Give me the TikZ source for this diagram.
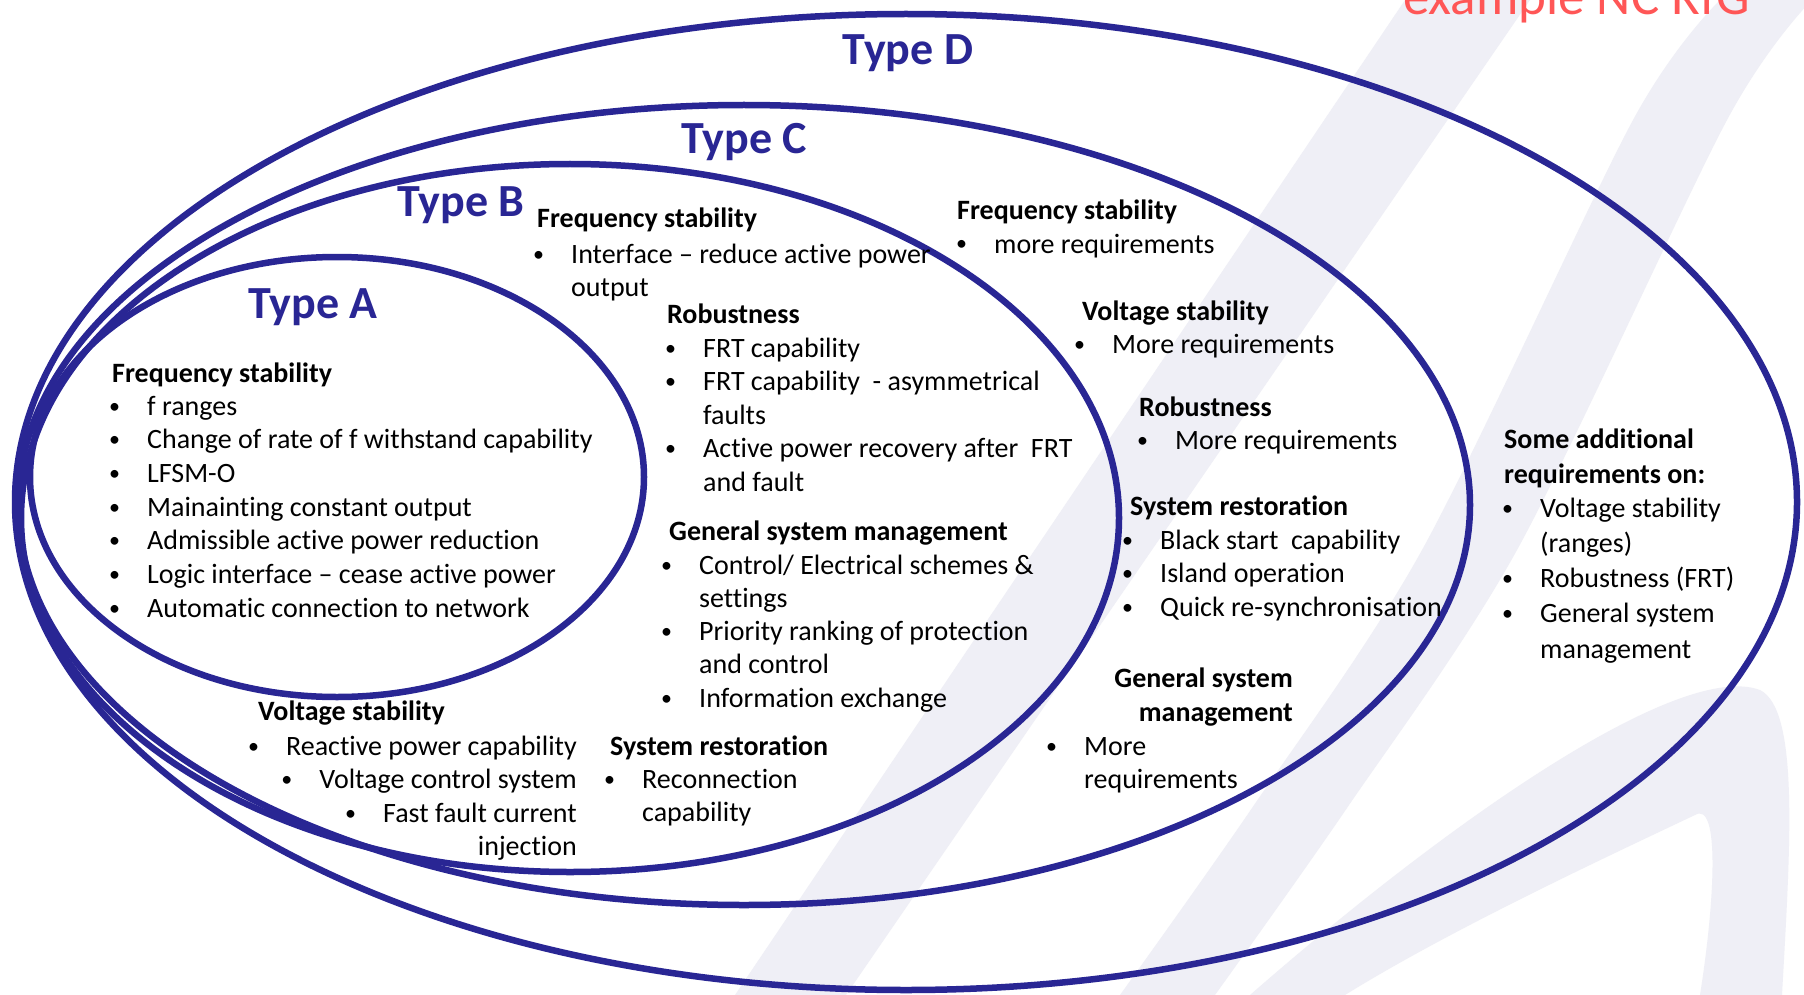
\documentclass[tikz,border=0pt]{standalone}
\usepackage{fontspec}
\setmainfont{Carlito}[Ligatures={TeX,NoCommon}]
\usetikzlibrary{shapes.geometric}

\definecolor{ringblue}{RGB}{41,38,148}
\definecolor{ncred}{RGB}{255,86,86}
\definecolor{logo}{RGB}{239,239,246}

% bullet hanging left of the item text
\newcommand{\bl}{\llap{\makebox[38pt][l]{\raisebox{2pt}{\fontsize{22}{22}\selectfont\textbullet}}}}
% #1 name, #2 x of text, #3 first baseline, #4 line gap, #5 lines
\newcommand{\reqlines}[5]{%
  \foreach \txt [count=\k from 0] in {#5}
    \node[req] (#1-\k) at (#2,{#3+#4*\k}) {\txt};}

\tikzset{
  ring/.style      = {ellipse, draw=ringblue, line width=6.5pt, inner sep=0pt},
  typelabel/.style = {anchor=base, inner sep=0pt, text=ringblue,
                      font=\fontsize{46}{52}\selectfont\bfseries},
  req/.style       = {anchor=base west, inner sep=0pt, font=\fontsize{28}{34}\selectfont},
  reqhead/.style   = {req, font=\fontsize{28}{34}\selectfont\bfseries},
  reqright/.style  = {req, anchor=base east},
  band/.style      = {fill=logo, draw=none},
}

\begin{document}
\begin{tikzpicture}[x=1pt, y=-1pt]
  \useasboundingbox (0,0) rectangle (1804,995);
  \fill[white] (0,0) rectangle (1804,995);

  % faint logo strokes behind everything
  \fill[band] (735,995) -- (1405,0) -- (1530,0) -- (846,995) -- cycle;
  \fill[band] plot[smooth] coordinates {(1120,995) (1252,808) (1422,550) (1633,120) (1720,0)}
    -- plot[smooth] coordinates {(1812,0) (1727,120) (1517,550) (1347,808) (1215,995)} -- cycle;
  \fill[band] (1250,995) .. controls (1450,820) and (1680,660) .. (1760,690)
    .. controls (1800,710) and (1790,850) .. (1782,995) -- (1700,995)
    .. controls (1715,900) and (1720,800) .. (1695,815)
    .. controls (1600,860) and (1450,930) .. (1345,995) -- cycle;

  % nested generator types
  \node[ring, minimum width=1782pt, minimum height=976pt] (typeD) at (906,502) {};
  \node[ring, minimum width=1452pt, minimum height=800pt] (typeC) at (744,505) {};
  \node[ring, minimum width=1098pt, minimum height=708pt] (typeB) at (570,518) {};
  \node[ring, minimum width=614pt,  minimum height=440pt] (typeA) at (337,477) {};

  \node[typelabel] (labD) at (908,65)  {Type D};
  \node[typelabel] (labC) at (744,154) {Type C};
  \node[typelabel] (labB) at (461,217) {Type B};
  \node[typelabel] (labA) at (313,318) {Type A};

  \node[anchor=base west, inner sep=0pt, text=ncred, font=\fontsize{53}{60}\selectfont]
    (ncrfg) at (1403,15) {example NC RfG};

  % type A
  \node[reqhead] (aFreqH) at (112,382) {Frequency stability};
  \reqlines{aFreq}{147}{415}{33.7}{\bl f ranges, \bl Change of rate of f withstand capability,
    \bl LFSM-O, \bl Mainainting constant output, \bl Admissible active power reduction,
    \bl Logic interface – cease active power, \bl Automatic connection to network}

  \node[reqhead] (aVoltH) at (258,720) {Voltage stability};
  \node[reqright] (aVolt-0) at (577,755) {\bl Reactive power capability};
  \node[reqright] (aVolt-1) at (577,788) {\bl Voltage control system};
  \node[reqright] (aVolt-2) at (577,822) {\bl Fast fault current};
  \node[reqright] (aVolt-3) at (577,855) {injection};

  % type B
  \node[reqhead] (bFreqH) at (537,228) {Frequency stability};
  \reqlines{bFreq}{571}{263}{33.7}{\bl Interface – reduce active power, output}
  \node[reqhead] (bRobH) at (667,323) {Robustness};
  \reqlines{bRob}{703}{357}{33.5}{\bl FRT capability, \bl FRT capability~ - asymmetrical,
    faults, \bl Active power recovery after~ FRT, and fault}
  \node[reqhead] (bGsmH) at (669,540) {General system management};
  \reqlines{bGsm}{699}{574}{33.3}{\bl Control/ Electrical schemes \&, settings,
    \bl Priority ranking of protection, and control, \bl Information exchange}
  \node[reqhead] (bResH) at (610,755) {System restoration};
  \reqlines{bRes}{642}{788}{33.7}{\bl Reconnection, capability}

  % type C
  \node[reqhead] (cFreqH) at (957,219) {Frequency stability};
  \reqlines{cFreq}{994}{253}{33.7}{\bl more requirements}
  \node[reqhead] (cVoltH) at (1082,320) {Voltage stability};
  \reqlines{cVolt}{1112}{353}{33.7}{\bl More requirements}
  \node[reqhead] (cRobH) at (1139,416) {Robustness};
  \reqlines{cRob}{1175}{449}{33.7}{\bl More requirements}
  \node[reqhead] (cResH) at (1130,515) {System restoration};
  \reqlines{cRes}{1160}{549}{33.5}{\bl Black start~ capability, \bl Island operation,
    \bl Quick re-synchronisation}
  \node[reqhead, anchor=base east] (cGsmH-0) at (1293,687) {General system};
  \node[reqhead, anchor=base east] (cGsmH-1) at (1293,721) {management};
  \reqlines{cGsm}{1084}{755}{33.7}{\bl More, requirements}

  % type D
  \node[reqhead] (dHead-0) at (1504,448) {Some additional};
  \node[reqhead] (dHead-1) at (1504,483) {requirements on:};
  \reqlines{dMore}{1540}{517}{35.3}{\bl Voltage stability, (ranges), \bl Robustness (FRT),
    \bl General system, management}
\end{tikzpicture}
\end{document}
